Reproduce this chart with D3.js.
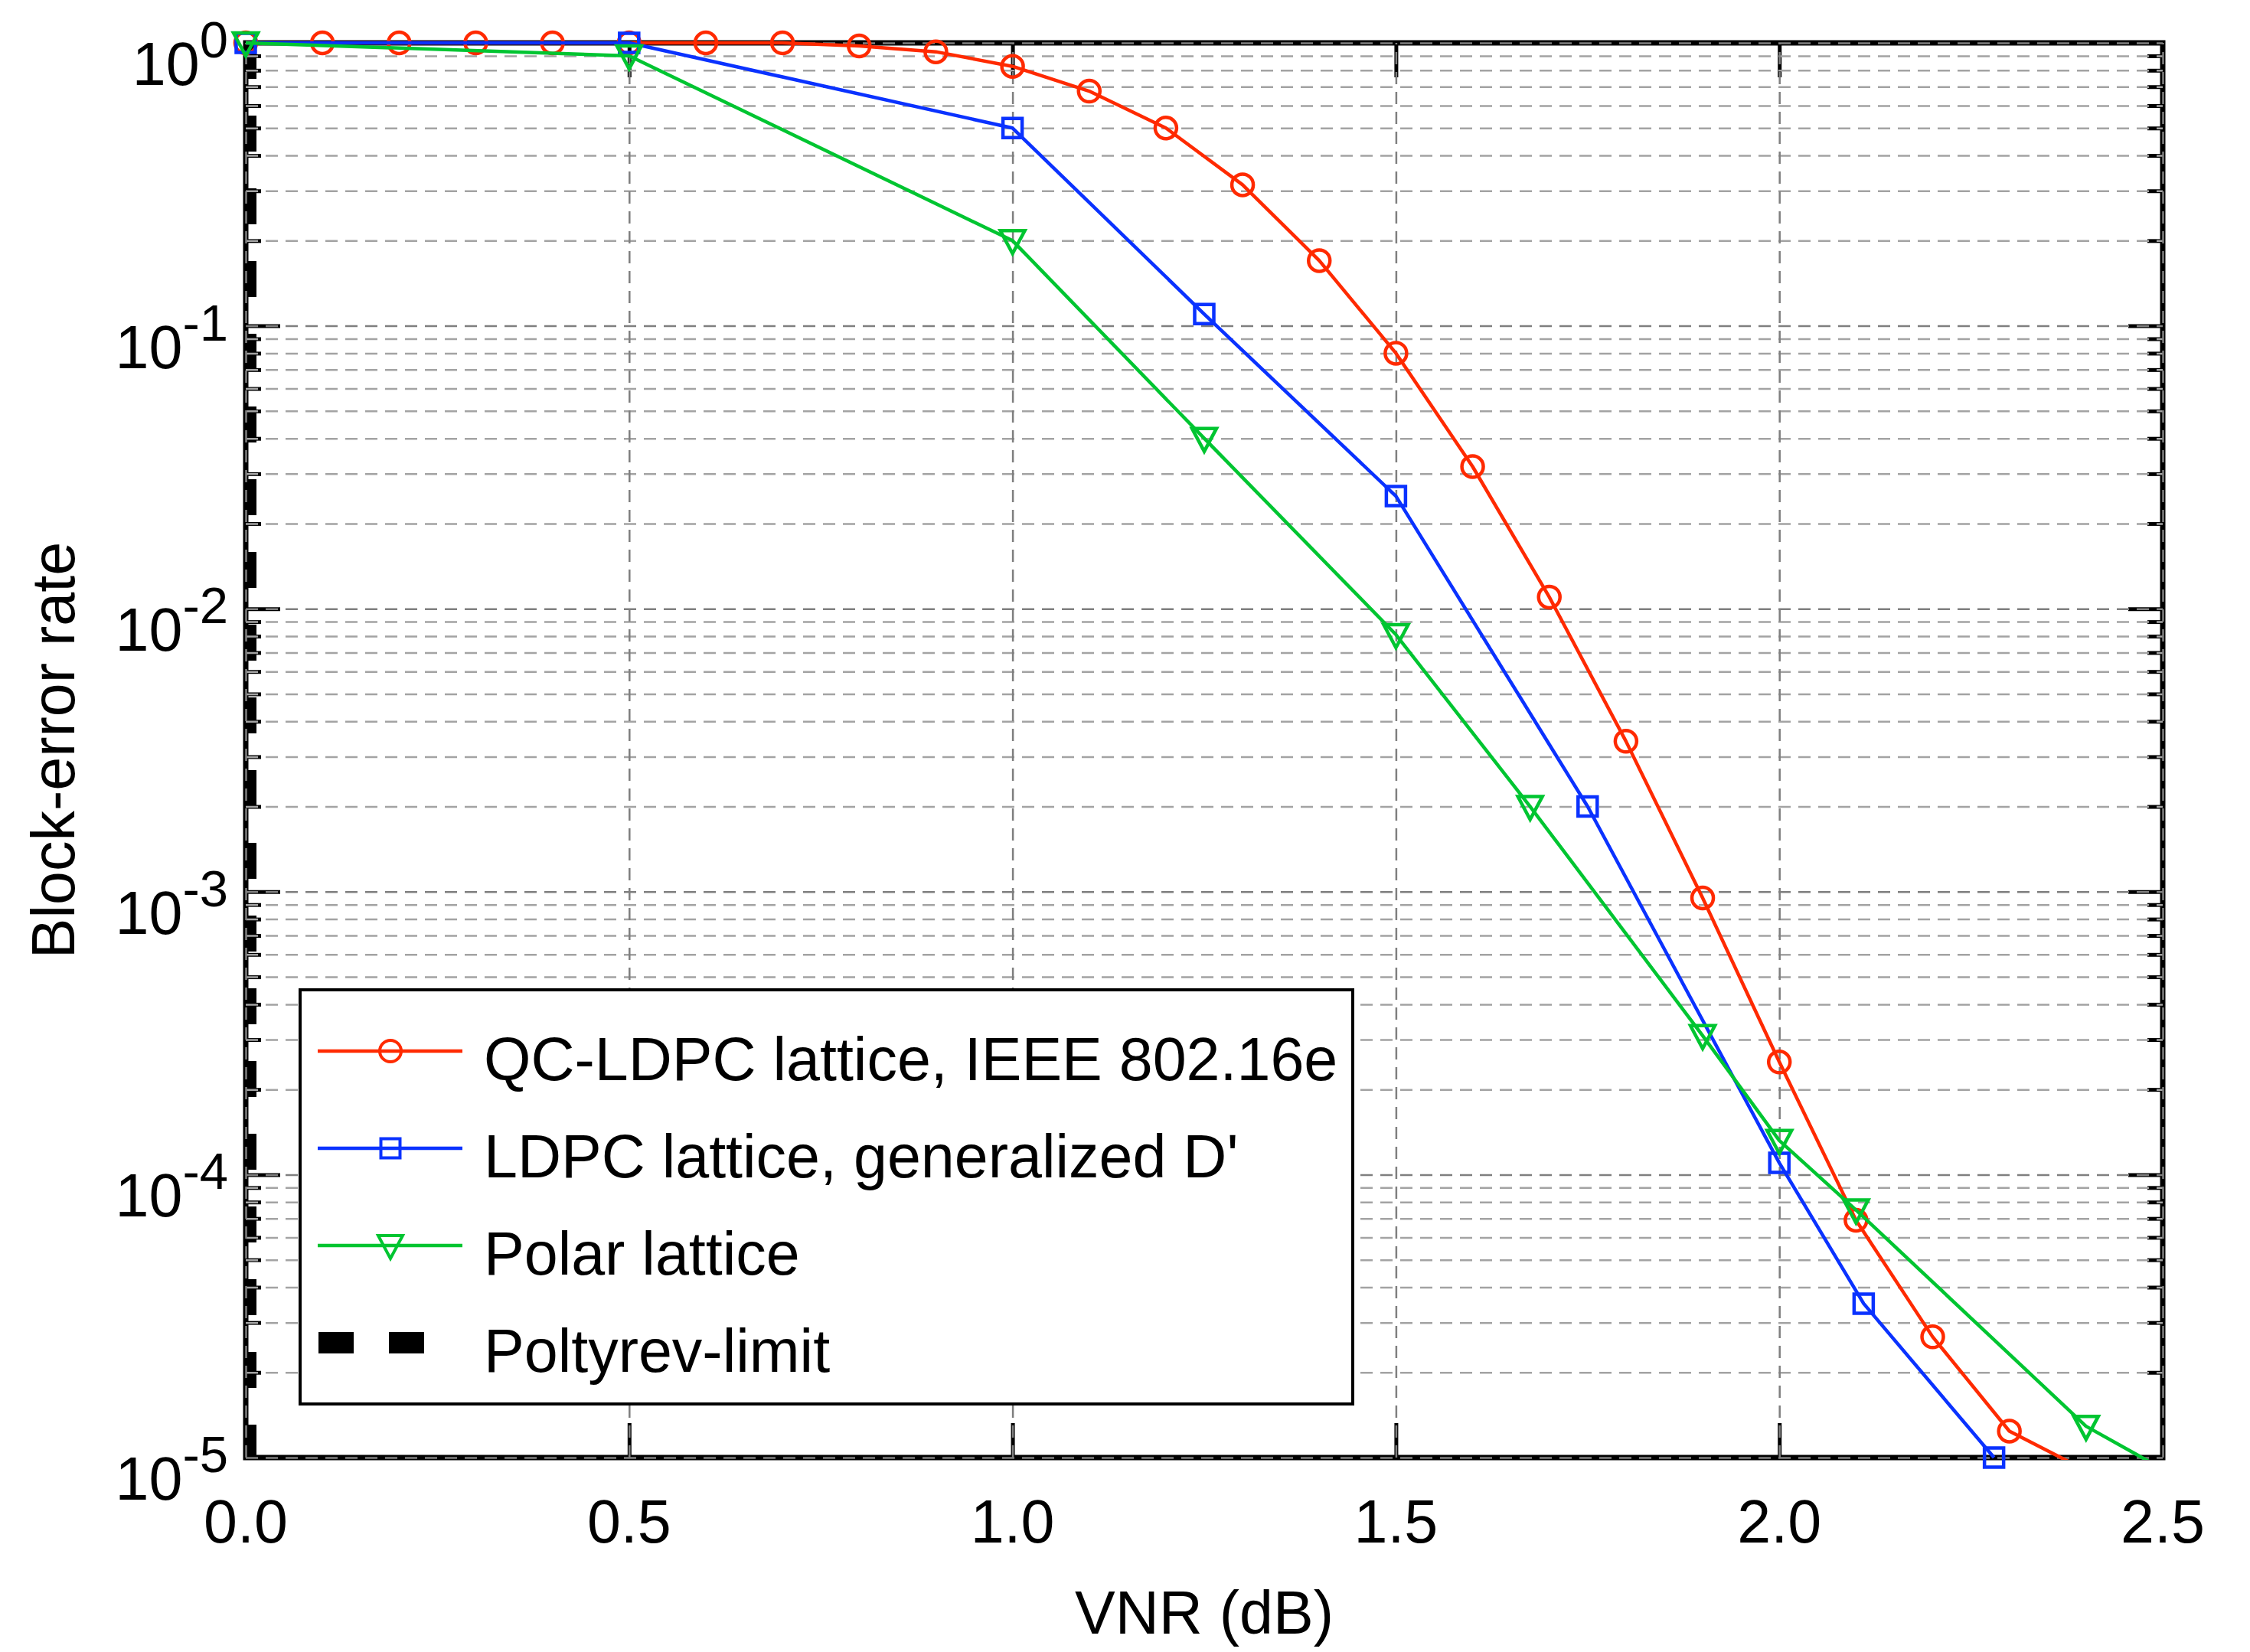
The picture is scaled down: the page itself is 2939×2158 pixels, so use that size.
<!DOCTYPE html>
<html>
<head>
<meta charset="utf-8">
<script src="https://cdn.jsdelivr.net/npm/d3@7"></script>
<style>
  body { margin: 0; background: #fff; }
  svg { display: block; }
  text { font-family: "Liberation Sans", Arial, Helvetica, sans-serif; fill: #000; }
</style>
</head>
<body>
<div id="chart"></div>
<script>
// Chart values (VNR in dB, block-error rate)
const qcVnr = [0, 0.1, 0.2, 0.3, 0.4, 0.5, 0.6, 0.7, 0.8, 0.9, 1.0, 1.1, 1.2,
  1.3, 1.4, 1.5, 1.6, 1.7, 1.8, 1.9, 2.0, 2.1, 2.2, 2.3, 2.4];
const qcBler = [1, 1, 1, 1, 1, 1, 1, 1, 0.975, 0.93, 0.826, 0.675, 0.5,
  0.315, 0.17, 0.08, 0.0318, 0.011, 0.0034, 9.5e-4, 2.5e-4, 6.9e-5, 2.67e-5, 1.24e-5, 9e-6];

const ldpcVnr = [0, 0.5, 1.0, 1.25, 1.5, 1.75, 2.0, 2.11, 2.28];
const ldpcBler = [1, 1, 0.5, 0.11, 0.025, 0.002, 1.1e-4, 3.5e-5, 1e-5];

const polarVnr = [0, 0.5, 1.0, 1.25, 1.5, 1.675, 1.9, 2.0, 2.1, 2.4, 2.5];
const polarBler = [1, 0.9, 0.2, 0.04, 0.0081, 0.002, 3.1e-4, 1.32e-4, 7.5e-5, 1.29e-5, 9.1e-6];

const poltyrevVnr = [0, 0];
const poltyrevBler = [1, 1e-5];

const seriesNames = [
  "QC-LDPC lattice, IEEE 802.16e",
  "LDPC lattice, generalized D'",
  "Polar lattice",
  "Poltyrev-limit",
];

// Tick values and labels
const xTicks = [0, 0.5, 1.0, 1.5, 2.0, 2.5];
const xTickLabels = ["0.0", "0.5", "1.0", "1.5", "2.0", "2.5"];
const yExponents = [0, -1, -2, -3, -4, -5];

// Size of the page and the plot box
const WIDTH = 2939;
const HEIGHT = 2158;
const margin = { top: 56, right: 114, bottom: 254, left: 321 };
const plotW = WIDTH - margin.left - margin.right;
const plotH = HEIGHT - margin.top - margin.bottom;

const FONT_SIZE = 79;

const x = d3.scaleLinear().domain([0, 2.5]).range([margin.left, margin.left + plotW]);
const y = d3.scaleLog().domain([1e-5, 1]).range([margin.top + plotH, margin.top]);

const yMajor = yExponents.map((e) => Math.pow(10, e));
const yMinor = [];
yExponents.slice(1).forEach((e) => {
  for (let m = 2; m <= 9; m++) yMinor.push(m * Math.pow(10, e));
});

const series = [
  { name: seriesNames[0], xs: qcVnr, ys: qcBler, color: "#ff2a00", marker: "circle" },
  { name: seriesNames[1], xs: ldpcVnr, ys: ldpcBler, color: "#0a32ff", marker: "square" },
  { name: seriesNames[2], xs: polarVnr, ys: polarBler, color: "#00c531", marker: "triangle" },
];

const svg = d3
  .select("#chart")
  .append("svg")
  .attr("width", WIDTH)
  .attr("height", HEIGHT);

// Clip regions for the data lines
const defs = svg.append("defs");
defs.append("clipPath").attr("id", "plotClip")
  .append("rect")
  .attr("x", margin.left).attr("y", margin.top)
  .attr("width", plotW).attr("height", plotH);
defs.append("clipPath").attr("id", "lineClip")
  .append("rect")
  .attr("x", margin.left - 3).attr("y", margin.top - 3)
  .attr("width", plotW + 6).attr("height", plotH + 6);

const line = d3.line().x((d) => x(d[0])).y((d) => y(d[1]));

// Poltyrev limit: thick black dashes on VNR = 0
svg.append("path")
  .datum(d3.zip(poltyrevVnr, poltyrevBler))
  .attr("d", line)
  .attr("clip-path", "url(#plotClip)")
  .attr("fill", "none")
  .attr("stroke", "#000")
  .attr("stroke-width", 28)
  .attr("stroke-dasharray", "47,48");

// Axis box
svg.append("rect")
  .attr("x", margin.left).attr("y", margin.top)
  .attr("width", plotW).attr("height", plotH)
  .attr("fill", "none")
  .attr("stroke", "#000")
  .attr("stroke-width", 7);

// Function to draw inward ticks on one side
function drawTicks(axisFn, scale, values, size, transform) {
  const g = svg.append("g")
    .attr("transform", transform)
    .call(axisFn(scale).tickValues(values).tickSize(size).tickFormat(""));
  g.select(".domain").remove();
  g.selectAll(".tick line").attr("stroke", "#000").attr("stroke-width", 5);
}

drawTicks(d3.axisLeft, y, yMajor, -45, `translate(${margin.left},0)`);
drawTicks(d3.axisLeft, y, yMinor, -20, `translate(${margin.left},0)`);
drawTicks(d3.axisRight, y, yMajor, -45, `translate(${margin.left + plotW},0)`);
drawTicks(d3.axisRight, y, yMinor, -20, `translate(${margin.left + plotW},0)`);
drawTicks(d3.axisBottom, x, xTicks, -45, `translate(0,${margin.top + plotH})`);
drawTicks(d3.axisTop, x, xTicks, -45, `translate(0,${margin.top})`);

// Function to draw dashed grid lines
function drawGrid(axisFn, scale, values, size, transform, color) {
  const g = svg.append("g")
    .attr("transform", transform)
    .call(axisFn(scale).tickValues(values).tickSize(size).tickFormat(""));
  g.select(".domain").remove();
  g.selectAll(".tick line")
    .attr("stroke", color)
    .attr("stroke-width", 2.5)
    .attr("stroke-dasharray", "16,10");
}

drawGrid(d3.axisLeft, y, yMinor, -plotW, `translate(${margin.left},0)`, "#a3a3a3");
drawGrid(d3.axisLeft, y, yMajor, -plotW, `translate(${margin.left},0)`, "#7f7f7f");
drawGrid(d3.axisBottom, x, xTicks, -plotH, `translate(0,${margin.top + plotH})`, "#7f7f7f");

// Tick labels
svg.append("g")
  .selectAll("text")
  .data(xTicks)
  .join("text")
  .attr("x", (d) => x(d))
  .attr("y", margin.top + plotH + 111)
  .attr("text-anchor", "middle")
  .attr("font-size", FONT_SIZE)
  .text((d, i) => xTickLabels[i]);

const yLabels = svg.append("g")
  .selectAll("text")
  .data(yExponents)
  .join("text")
  .attr("x", margin.left - 23)
  .attr("y", (d) => y(Math.pow(10, d)) + 55)
  .attr("text-anchor", "end")
  .attr("font-size", FONT_SIZE);
yLabels.append("tspan").text("10");
yLabels.append("tspan")
  .attr("dy", -36)
  .attr("font-size", 67)
  .text((d) => String(d));

// Axis titles
svg.append("text")
  .attr("x", margin.left + plotW / 2)
  .attr("y", 2134)
  .attr("text-anchor", "middle")
  .attr("font-size", FONT_SIZE)
  .text("VNR (dB)");

svg.append("text")
  .attr("transform", `translate(97,${margin.top + plotH / 2}) rotate(-90)`)
  .attr("text-anchor", "middle")
  .attr("font-size", FONT_SIZE)
  .text("Block-error rate");

// Function to build a marker path
function markerPath(kind) {
  if (kind === "circle") return d3.symbol(d3.symbolCircle, Math.PI * 14 * 14)();
  if (kind === "square") return "M-12.5,-12.5H12.5V12.5H-12.5Z";
  return "M-16,-13L16,-13L0,17Z";
}

// Data lines and markers
series.forEach((s) => {
  const pts = d3.zip(s.xs, s.ys);
  svg.append("path")
    .datum(pts)
    .attr("d", line)
    .attr("clip-path", "url(#lineClip)")
    .attr("fill", "none")
    .attr("stroke", s.color)
    .attr("stroke-width", 4.5)
    .attr("stroke-linejoin", "round");

  svg.append("g")
    .selectAll("path")
    .data(pts.filter((d) => d[1] >= 0.99999e-5 && d[0] <= 2.5))
    .join("path")
    .attr("transform", (d) => `translate(${x(d[0])},${y(d[1])})`)
    .attr("d", markerPath(s.marker))
    .attr("fill", "none")
    .attr("stroke", s.color)
    .attr("stroke-width", 4.5);
});

// Legend
const legendX = 392;
const legendY = 1293;
const rowY = [1373, 1500, 1627, 1754];

svg.append("rect")
  .attr("x", legendX).attr("y", legendY)
  .attr("width", 1375).attr("height", 541)
  .attr("fill", "#fff")
  .attr("stroke", "#000")
  .attr("stroke-width", 4);

series.forEach((s, i) => {
  const g = svg.append("g");
  g.append("line")
    .attr("x1", 415).attr("x2", 604)
    .attr("y1", rowY[i]).attr("y2", rowY[i])
    .attr("stroke", s.color)
    .attr("stroke-width", 4.5);
  g.append("path")
    .attr("transform", `translate(510,${rowY[i]})`)
    .attr("d", markerPath(s.marker))
    .attr("fill", "none")
    .attr("stroke", s.color)
    .attr("stroke-width", 4);
});

svg.append("line")
  .attr("x1", 416).attr("x2", 556)
  .attr("y1", rowY[3]).attr("y2", rowY[3])
  .attr("stroke", "#000")
  .attr("stroke-width", 28)
  .attr("stroke-dasharray", "46,46");

svg.append("g")
  .selectAll("text")
  .data(seriesNames)
  .join("text")
  .attr("x", 632)
  .attr("y", (d, i) => rowY[i] + 38)
  .attr("font-size", FONT_SIZE)
  .text((d) => d);
</script>
</body>
</html>
